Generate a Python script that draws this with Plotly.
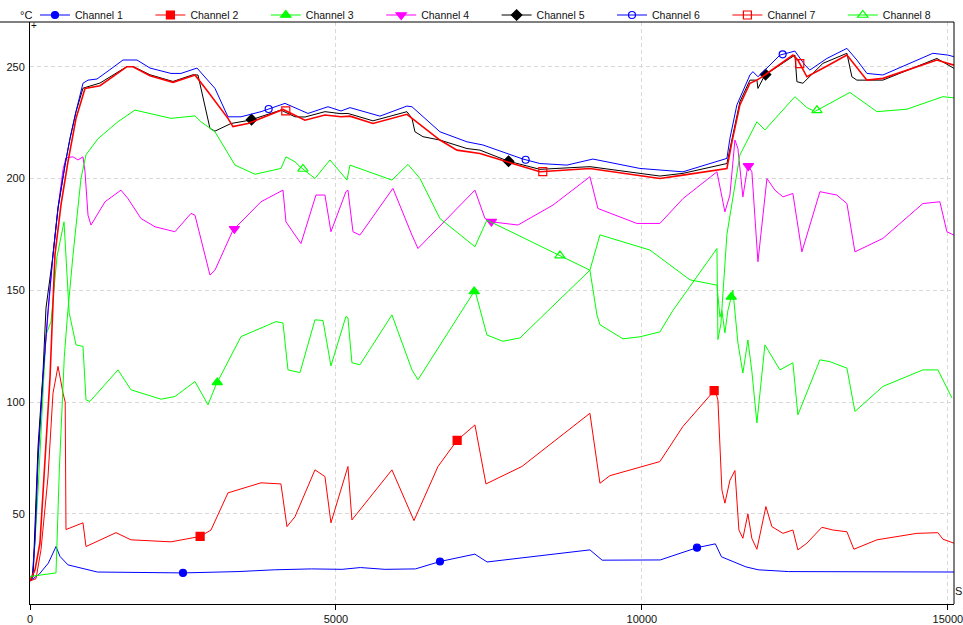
import numpy as np
import plotly.graph_objects as go

# ---- logged temperatures: time [s] and value [°C] per channel ----
ch1_t = [0, 50, 150, 300, 425, 490, 620, 1100, 2500, 3400, 4000, 4600, 5100, 5400, 5800, 6300,
         6700, 7270, 7470, 9150, 9350, 10300, 10900, 11200, 11300, 11700, 11900, 12400, 15100]
ch1_v = [20, 21, 23, 28, 35.4, 31, 27.2, 24, 23.6, 24.2, 25, 25.4, 25.2, 26, 25.2, 25.4,
         28.7, 32, 28.5, 33.9, 29.3, 29.4, 34.9, 36.6, 30.8, 26.3, 25, 24.2, 24]

ch2_t = [0, 98, 180, 294, 376, 458, 540, 575, 588, 866, 915, 1405, 1650, 2304, 2778, 2958, 3235,
         3775, 4101, 4199, 4330, 4657, 4820, 4918, 5196, 5261, 5915, 6275, 6667, 6977, 7271, 7451,
         8039, 9150, 9314, 9477, 10294, 10670, 11193, 11242, 11307, 11356, 11438, 11520, 11585,
         11650, 11732, 11797, 11879, 12026, 12124, 12304, 12467, 12549, 12696, 12941, 13121, 13350,
         13464, 13840, 14494, 14837, 14919, 15098]
ch2_v = [20, 21, 34, 66.5, 104, 116, 104, 100, 43, 46, 35.4, 41.6, 38.4, 37.5, 39.9, 42.8, 59.4,
         63.9, 63.4, 44.3, 48.7, 69.7, 66.7, 46, 71.2, 47.3, 69.7, 47, 71.2, 82.8, 89.8, 63.4,
         71.2, 95, 63.7, 67.1, 73.4, 89.1, 105.5, 101, 60.7, 54.8, 65, 69.4, 42.8,
         39.1, 50, 39, 34.2, 53.3, 44.3, 41.3, 42.8, 33.9, 36.9, 44, 42.8, 42,
         34.2, 38.4, 41.3, 41.6, 38.7, 36.9]

ch3_t = [0, 49, 131, 212, 261, 343, 441, 556, 605, 640, 752, 866, 915, 980, 1438, 1650, 2141, 2369,
         2696, 2909, 3039, 3448, 4020, 4134, 4216, 4412, 4657, 4788, 4918, 5163, 5196, 5261, 5392,
         5915, 6242, 6340, 7271, 7467, 7729, 8007, 9150, 9314, 10131, 10784, 11226, 11275, 11307,
         11356, 11405, 11487, 11569, 11650, 11732, 11797, 11879, 12010, 12255, 12467, 12549, 12909,
         13072, 13350, 13481, 13938, 14591, 14837, 15066]
ch3_v = [21, 23, 60, 100, 130, 136, 165, 180.6, 155, 140, 125.6, 124.9, 101, 100.3, 114.4, 105.5, 101.3, 102.5,
         109.2, 98.8, 107.7, 129.3, 136, 135.4, 114.4, 113.2, 136.8, 136.5, 116.2, 138.3, 137.7, 117.6, 116.7,
         139, 114.4, 110, 150, 130, 127.2, 128.7, 159, 174.8, 168, 154.7, 152.3, 138, 141,
         131, 141, 150, 126.5, 113, 127.8, 113.7, 90.7, 125.6, 114.4, 117.6, 94.3, 118.9,
         118.1, 115.2, 95.8, 107, 114.4, 114.4, 101.9]

ch4_t = [0, 49, 82, 131, 212, 294, 376, 458, 540, 588, 703, 784, 866, 899, 948, 997, 1226, 1487,
         1601, 1814, 2043, 2369, 2631, 2696, 2941, 3023, 3317, 3775, 4134, 4183, 4428, 4673, 4820,
         4918, 5163, 5196, 5278, 5392, 5931, 6242, 6340, 7271, 7435, 7549, 7974, 8546, 9150, 9281,
         9918, 10294, 10670, 11226, 11356, 11438, 11520, 11569, 11650, 11732, 11797, 11896, 12043,
         12173, 12304, 12467, 12614, 12909, 13186, 13350, 13481, 13938, 14591, 14869, 14984, 15098]
ch4_v = [20, 22, 40, 76, 112, 141, 166, 187, 204, 209.3, 209.7, 208.3, 209.7, 203, 183.6, 179.2, 189.6, 194.8,
         191, 182.1, 178.4, 176.2, 184.4, 183.6, 156.8, 159, 176.9, 189.6, 194.8, 180.6, 170.9, 192.6, 192.6,
         176.2, 194.1, 194.8, 176.2, 174.7, 195.6, 174.7, 168.7, 194.8, 182.1, 180.6, 179.2, 188.1, 200.8, 186.6,
         179.9, 179.9, 191, 203, 185.1, 192.6, 217.2, 213.4, 191.8, 206, 203, 162.8, 200,
         194.8, 191.8, 193.3, 167.2, 194.1, 192.6, 188.8, 167.2, 173.2, 188.8, 189.6, 176.2, 174.7]

ch5_t = [0, 49, 82, 131, 212, 261, 376, 458, 572, 654, 752, 866, 1144, 1585, 1683, 1961, 2337, 2663,
         2745, 2794, 2941, 3023, 3284, 3595, 4101, 4330, 4493, 4820, 5082, 5196, 5605, 6160, 6242,
         6291, 6422, 6699, 7141, 7353, 7811, 8333, 9150, 10294, 10670, 11389, 11471, 11601, 11765,
         11879, 11896, 12010, 12500, 12533, 12631, 12958, 13350, 13431, 13513, 13938, 14820, 15098]
ch5_v = [20, 22, 45, 80, 113, 142, 165.7, 186.6, 206, 217.9, 229.9, 240.4, 242.7, 250.1, 250.1, 246.4, 243.4, 246.4,
         246.3, 240.3, 222.4, 221.2, 224.6, 226.1, 230.6, 227.6, 227.5, 229.9, 229, 229.1, 225.8, 229.9, 226.9,
         220.9, 218.7, 217.2, 213.4, 212.7, 207.8, 204.1, 205.3, 201.1, 202.3, 206.7, 217.9, 234.3, 244,
         244, 240.3, 246.3, 255.2, 243.3, 242.6, 251.5, 256, 245.5, 244, 244, 253.7, 249.3]

ch6_t = [0, 33, 82, 131, 212, 294, 376, 458, 572, 654, 752, 866, 948, 1095, 1307, 1520, 1748, 1961,
         2304, 2467, 2729, 3023, 3235, 3448, 3775, 4167, 4543, 4869, 5082, 5229, 5719, 6160, 6242,
         6699, 7141, 7402, 8056, 8333, 8775, 9199, 9967, 10670, 11389, 11438, 11552, 11765, 11814,
         11896, 12010, 12255, 12500, 12664, 12745, 13023, 13350, 13513, 13677, 13938, 14755, 15000, 15098]
ch6_v = [20, 21, 38, 74, 111, 141, 166, 187, 206, 218, 230, 242.6, 244, 244.5, 248.7, 253, 253, 249.4,
         247, 247, 249.4, 240.3, 227.6, 227.6, 229.9, 233.6, 229.1, 232.1, 230.2, 231.7, 227.9, 232.4, 232.1,
         220.9, 216.4, 215, 208.7, 206.7, 206, 208.7, 204.5, 203, 209, 217.9, 232.9, 246.3, 247.8,
         245.5, 248.5, 255.2, 257, 250.7, 248.5, 253.7, 258.2, 253, 247, 246.3, 256, 255.2, 254.5]

ch7_t = [0, 82, 163, 245, 294, 327, 408, 507, 621, 752, 899, 1144, 1585, 1683, 1961, 2337, 2663, 2696,
         2909, 3235, 3317, 3562, 4134, 4265, 4493, 4820, 5082, 5229, 5605, 6160, 6242, 6699, 6977,
         7353, 7794, 8333, 9150, 10294, 10670, 11389, 11471, 11601, 11765, 11879, 12010, 12467, 12549,
         12696, 12958, 13350, 13677, 13938, 14820, 15098]
ch7_v = [20, 25, 37, 74, 100, 111, 166, 188.3, 207.5, 226.9, 240.3, 241.5, 250, 250, 246, 243, 246, 246.3,
         238.8, 226.9, 223.2, 224.6, 230.9, 229.1, 226.1, 228.4, 227.6, 227.9, 224.6, 228.7, 226.9, 217.2, 212.7,
         211.2, 207.5, 203, 204.5, 200, 201.5, 204.5, 216.4, 232.9, 242.6, 244, 246.3, 255.2, 253,
         245.5, 249.3, 255.2, 244, 244.8, 253, 250.7]

ch8_t = [0, 425, 480, 560, 610, 700, 833, 915, 1111, 1438, 1716, 2304, 2696, 2794, 3023, 3350, 3677,
         4101, 4183, 4330, 4412, 4657, 4902, 5147, 5180, 5229, 5915, 6177, 6373, 6699, 7271, 7467,
         9150, 9265, 9314, 9690, 9967, 10294, 10507, 11226, 11242, 11291, 11389, 11601, 11879, 12010,
         12500, 12696, 12827, 13399, 13840, 14330, 14918, 15098]
ch8_v = [22, 23.6, 70, 120, 138, 165, 200, 210.6, 217.8, 225.4, 230.6, 226.9, 228, 225.4, 220.9, 206, 201.9,
         204.5, 209.7, 207.5, 205.3, 200, 208.3, 200, 199.3, 206, 199.3, 206.3, 200, 182.1, 169.5, 181.4,
         159, 139, 134.6, 128.3, 129.2, 131.4, 141, 168.7, 128, 135, 175, 210.5, 225.4, 221.7,
         236.6, 231.7, 230, 238.5, 229.9, 231, 236.6, 236.1]

channel_names = ["Channel 1", "Channel 2", "Channel 3", "Channel 4",
                 "Channel 5", "Channel 6", "Channel 7", "Channel 8"]

# symbols are stamped every MARKER_PERIOD seconds, staggered per channel
MARKER_FIRST = 2500
MARKER_STAGGER = 280
MARKER_PERIOD = 4200
MARKER_COUNT = 3

x_ticks = [0, 5000, 10000, 15000]
y_ticks = [50, 100, 150, 200, 250]

series = [(ch1_t, ch1_v), (ch2_t, ch2_v), (ch3_t, ch3_v), (ch4_t, ch4_v),
          (ch5_t, ch5_v), (ch6_t, ch6_v), (ch7_t, ch7_v), (ch8_t, ch8_v)]

styles = [
    dict(color="#0000FF", symbol="circle", size=7, width=1),
    dict(color="#FF0000", symbol="square", size=8, width=1),
    dict(color="#00FF00", symbol="triangle-up", size=9, width=1),
    dict(color="#FF00FF", symbol="triangle-down", size=9, width=1),
    dict(color="#000000", symbol="diamond", size=8, width=1),
    dict(color="#0000FF", symbol="circle-open", size=7, width=1),
    dict(color="#FF0000", symbol="square-open", size=8, width=1.6),
    dict(color="#00FF00", symbol="triangle-up-open", size=9, width=1),
]

fig = go.Figure()

for i, ((t, v), name, st) in enumerate(zip(series, channel_names, styles)):
    fig.add_trace(go.Scatter(
        x=t, y=v, mode="lines", name=name, showlegend=False,
        line=dict(color=st["color"], width=st["width"]),
        hoverinfo="skip",
    ))
    mt = np.array([MARKER_FIRST + MARKER_STAGGER * i + MARKER_PERIOD * k for k in range(MARKER_COUNT)])
    mv = np.interp(mt, t, v)
    fig.add_trace(go.Scatter(
        x=mt, y=mv, mode="markers", showlegend=False,
        marker=dict(symbol=st["symbol"], size=st["size"], color=st["color"],
                    line=dict(color=st["color"], width=1.2)),
        hoverinfo="skip",
    ))

# legend entries (line with symbol)
for name, st in zip(channel_names, styles):
    fig.add_trace(go.Scatter(
        x=[None], y=[None], mode="lines+markers", name=name,
        line=dict(color=st["color"], width=1),
        marker=dict(symbol=st["symbol"], size=st["size"], color=st["color"],
                    line=dict(color=st["color"], width=1.2)),
    ))

W, H = 963, 625
L, R, T, B = 30, 9, 22, 21
pw, ph = W - L - R, H - T - B

grid = dict(showgrid=True, gridcolor="#d9d9d9", griddash="4px,3px", gridwidth=1)

fig.update_layout(
    width=W, height=H,
    margin=dict(l=L, r=R, t=T, b=B, pad=0, autoexpand=False),
    paper_bgcolor="white", plot_bgcolor="white",
    font=dict(family="Liberation Sans, Arial, sans-serif", size=11, color="#111111"),
    showlegend=True,
    legend=dict(
        orientation="h", x=5 / pw, xanchor="left", y=(H - B - 15) / ph,
        yanchor="middle",
        entrywidth=70.4, entrywidthmode="pixels",
        font=dict(size=10.5, color="#111111"),
        bgcolor="rgba(0,0,0,0)", borderwidth=0, traceorder="normal",
    ),
    xaxis=dict(
        range=[0, 15100], tickvals=x_ticks, ticktext=[str(v) for v in x_ticks],
        showline=True, linecolor="#000000", linewidth=1,
        ticks="outside", ticklen=5, tickcolor="#000000", tickwidth=1,
        ticklabeloverflow="allow",
        zeroline=False, **grid,
    ),
    yaxis=dict(
        range=[9.7, 270], tickvals=y_ticks, ticktext=[str(v) for v in y_ticks],
        showline=True, linecolor="#000000", linewidth=1,
        ticks="", ticklabelstandoff=2,
        zeroline=False, **grid,
    ),
    shapes=[
        dict(type="line", xref="paper", yref="paper", x0=-L / pw, x1=1, y0=1, y1=1,
             line=dict(color="#000000", width=1)),
        dict(type="line", xref="paper", yref="paper", x0=1, x1=1, y0=0, y1=1,
             line=dict(color="#000000", width=1)),
    ],
    annotations=[
        dict(text="°C", xref="paper", yref="paper", x=(26 - L) / pw, y=(H - B - 15) / ph,
             showarrow=False, font=dict(size=11), xanchor="center", yanchor="middle"),
        dict(text="S", xref="paper", yref="paper", x=(959 - L) / pw, y=(H - B - 591) / ph,
             showarrow=False, font=dict(size=11), xanchor="center", yanchor="middle"),
        dict(text="+", xref="paper", yref="paper", x=(34 - L) / pw, y=(H - B - 26) / ph,
             showarrow=False, font=dict(size=10), xanchor="center", yanchor="middle"),
    ],
)

fig.write_html("out.html")
